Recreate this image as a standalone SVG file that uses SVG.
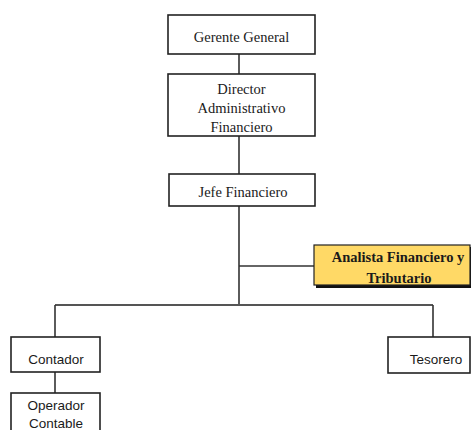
<svg xmlns="http://www.w3.org/2000/svg" width="471" height="430" viewBox="0 0 471 430">
  <style>
    .box { fill: #ffffff; stroke: #222222; stroke-width: 1.6; }
    .serif { font-family: "Liberation Serif", "Times New Roman", serif; font-size: 14.5px; fill: #1a1a1a; }
    .sans { font-family: "Liberation Sans", Arial, sans-serif; font-size: 13.5px; fill: #1a1a1a; }
    .link { stroke: #333333; stroke-width: 1.6; fill: none; }
    .bar { stroke: #555555; stroke-width: 2.2; fill: none; }
  </style>
  <rect width="471" height="430" fill="#ffffff"/>

  <!-- connectors -->
  <g id="connectors">
    <line class="link" x1="239" y1="54" x2="239" y2="74"/>
    <line class="link" x1="239" y1="136" x2="239" y2="174"/>
    <line class="link" x1="239" y1="206" x2="239" y2="305"/>
    <line class="link" x1="239" y1="266" x2="314" y2="266"/>
    <line class="bar" x1="55" y1="305" x2="433" y2="305"/>
    <line class="link" x1="55" y1="305" x2="55" y2="337"/>
    <line class="link" x1="433" y1="305" x2="433" y2="337"/>
    <line class="link" x1="55" y1="372" x2="55" y2="393"/>
  </g>

  <g id="gerente-general">
    <rect class="box" x="168" y="15" width="147" height="39"/>
    <text class="serif" x="241.5" y="42" text-anchor="middle">Gerente General</text>
  </g>

  <g id="director">
    <rect class="box" x="168" y="74" width="147" height="62"/>
    <text class="serif" x="241.5" y="94" text-anchor="middle">Director</text>
    <text class="serif" x="241.5" y="113" text-anchor="middle">Administrativo</text>
    <text class="serif" x="241.5" y="132" text-anchor="middle">Financiero</text>
  </g>

  <g id="jefe-financiero">
    <rect class="box" x="169" y="174" width="146" height="32"/>
    <text class="serif" x="243" y="197" text-anchor="middle">Jefe Financiero</text>
  </g>

  <g id="analista">
    <!-- drop shadow on right and bottom -->
    <rect x="316" y="247" width="156" height="41" fill="#111111"/>
    <rect x="314" y="245" width="156" height="40" fill="#FFD966" stroke="#222222" stroke-width="1.2"/>
    <text class="serif" x="398" y="262" text-anchor="middle" font-weight="bold" font-size="14.5">Analista Financiero y</text>
    <text class="serif" x="399" y="283" text-anchor="middle" font-weight="bold" font-size="14.5">Tributario</text>
  </g>

  <g id="contador">
    <rect class="box" x="11" y="337" width="89" height="35"/>
    <text class="sans" x="56" y="364" text-anchor="middle">Contador</text>
  </g>

  <g id="tesorero">
    <rect class="box" x="388" y="337" width="82" height="36"/>
    <text class="sans" x="436" y="364" text-anchor="middle">Tesorero</text>
  </g>

  <g id="operador-contable">
    <rect class="box" x="11" y="393" width="89" height="45"/>
    <text class="sans" x="56" y="410" text-anchor="middle">Operador</text>
    <text class="sans" x="56" y="428" text-anchor="middle">Contable</text>
  </g>
</svg>
